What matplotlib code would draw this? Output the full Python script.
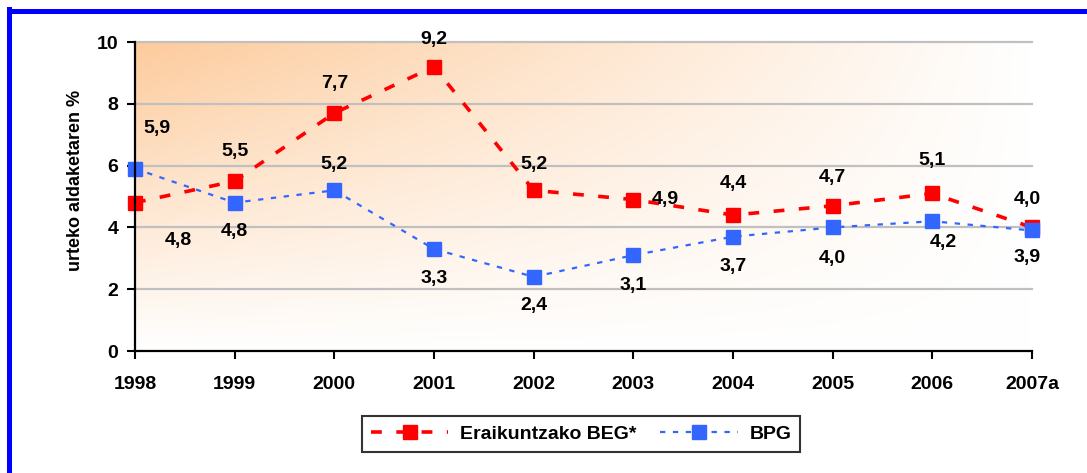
import numpy as np
import matplotlib
matplotlib.use("Agg")
import matplotlib.pyplot as plt
from matplotlib.lines import Line2D

plt.rcParams['font.family'] = ['Liberation Sans', 'DejaVu Sans']
plt.rcParams['font.weight'] = 'bold'

years = ['1998', '1999', '2000', '2001', '2002', '2003', '2004', '2005', '2006', '2007a']
beg = [4.8, 5.5, 7.7, 9.2, 5.2, 4.9, 4.4, 4.7, 5.1, 4.0]
bpg = [5.9, 4.8, 5.2, 3.3, 2.4, 3.1, 3.7, 4.0, 4.2, 3.9]
beg_name = 'Eraikuntzako BEG*'
bpg_name = 'BPG'
ylabel = 'urteko aldaketaren %'

# label offsets in pixels (x, y)
beg_off = [(43, -38), (0, 30), (0, 30), (0, 27), (0, 26), (32, 0), (0, 32), (0, 28), (0, 33), (-5, 28)]
bpg_off = [(22, 40), (0, -29), (0, 26), (0, -29), (0, -29), (0, -30), (0, -30), (0, -31), (11, -21), (-5, -27)]

red = '#FF0000'
blue = '#3366FF'


def fmt(v):
    return f'{v:.1f}'.replace('.', ',')


fig = plt.figure(figsize=(10.87, 4.73), dpi=100)
ax = fig.add_axes([135 / 1087, 1 - 351 / 473, (1032 - 135) / 1087, (351 - 42) / 473])

# gradient background, orange at the top left corner
u = np.linspace(0, 1, 300)
v = np.linspace(1, 0, 200)
U, V = np.meshgrid(u, v)
f = (1 - U) * V
orange = np.array([253, 203, 156]) / 255
img = 1 - (1 - orange)[None, None, :] * f[:, :, None]
ax.imshow(img, extent=[0, len(years) - 1, 0, 10], aspect='auto', zorder=0)

for yv in [2, 4, 6, 8, 10]:
    ax.axhline(yv, color='#C0C0C0', lw=1.6, zorder=1)

x = np.arange(len(years))
ax.plot(x, beg, color=red, lw=2.6, ls=(0, (3, 4)), marker='s', ms=10,
        mec=red, mfc=red, zorder=3, label=beg_name)
ax.plot(x, bpg, color=blue, lw=1.6, ls=(0, (2.4, 3.4)), marker='s', ms=10,
        mec=blue, mfc=blue, zorder=4, label=bpg_name)

for i in range(len(years)):
    ax.annotate(fmt(beg[i]), (x[i], beg[i]), xytext=beg_off[i], textcoords='offset pixels',
                ha='center', va='center', fontsize=14, fontweight='bold', zorder=5)
    ax.annotate(fmt(bpg[i]), (x[i], bpg[i]), xytext=bpg_off[i], textcoords='offset pixels',
                ha='center', va='center', fontsize=14, fontweight='bold', zorder=5)

ax.set_xlim(0, len(years) - 1)
ax.set_ylim(0, 10)
ax.set_yticks([0, 2, 4, 6, 8, 10])
ax.set_xticks(x)
ax.set_xticklabels(years)
ax.tick_params(axis='both', labelsize=14, width=1.5, length=6, color='black')
ax.tick_params(axis='x', pad=12)
ax.tick_params(axis='y', pad=6)
for lab in ax.get_xticklabels() + ax.get_yticklabels():
    lab.set_fontweight('bold')

ax.spines['top'].set_visible(False)
ax.spines['right'].set_visible(False)
ax.spines['left'].set_linewidth(1.6)
ax.spines['bottom'].set_linewidth(1.6)
ax.spines['left'].set_zorder(6)
ax.spines['bottom'].set_zorder(6)
for s in ['left', 'bottom']:
    ax.spines[s].set_clip_on(False)
for ln in ax.lines:
    ln.set_clip_on(False)

fig.text(75 / 1087, 1 - 180 / 473, ylabel, rotation=90, ha='center', va='center',
         fontsize=13, fontweight='bold')

leg = fig.legend(loc='center', bbox_to_anchor=(581 / 1087, 1 - 434 / 473), ncol=2,
                 fontsize=14, frameon=True, fancybox=False, handlelength=4.0,
                 columnspacing=1.2, handletextpad=0.6, borderpad=0.45)
leg.get_frame().set_edgecolor('black')
leg.get_frame().set_linewidth(1.5)
for t in leg.get_texts():
    t.set_fontweight('bold')

# blue frame, left and top edges only
fig.add_artist(Line2D([8.5 / 1087, 8.5 / 1087], [0, 1 - 9 / 473], color='#0000FF', lw=3.6,
                      transform=fig.transFigure, solid_capstyle='projecting'))
fig.add_artist(Line2D([8.5 / 1087, 1], [1 - 11.5 / 473, 1 - 11.5 / 473], color='#0000FF', lw=3.6,
                      transform=fig.transFigure, solid_capstyle='projecting'))

fig.savefig('out.png', dpi=100)
